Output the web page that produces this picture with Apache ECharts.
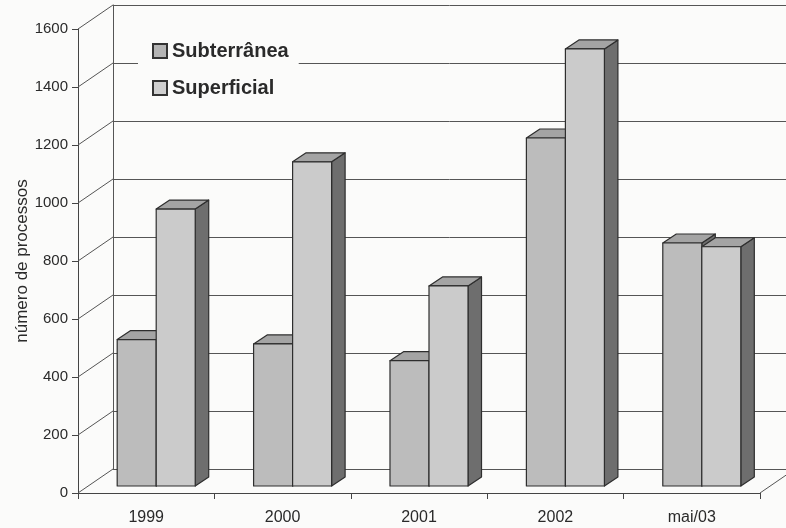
<!DOCTYPE html>
<html>
<head>
<meta charset="utf-8">
<script src="https://cdn.jsdelivr.net/npm/echarts@6/dist/echarts.min.js"></script>
<style>
  html, body { margin: 0; padding: 0; background: #fbfbfa; }
  #main { width: 786px; height: 528px; }
</style>
</head>
<body>
<div id="main"></div>
<script>
// dados
var categorias = ['1999', '2000', '2001', '2002', 'mai/03'];
var subterranea = [505, 490, 432, 1200, 838];
var superficial = [955, 1118, 690, 1507, 825];
var yTicks = [0, 200, 400, 600, 800, 1000, 1200, 1400, 1600];

// profundidade do "3D" (parede do fundo) e das barras
var DEPTH = [35, -24];
var BAR_OFF = [10, -7];
var BAR_D = [13.5, -9];

var myChart = echarts.init(document.getElementById('main'));

function barRenderer(lado, faceColor) {
    return function (params, api) {
        var idx = api.value(0);
        var v = api.value(1);
        var top = api.coord([idx, v]);
        var base = api.coord([idx, 0]);
        var bw = api.size([1, 0])[0] * 0.286;
        var cx = top[0] + BAR_OFF[0];
        var x0 = lado === 0 ? cx - bw : cx;
        var x1 = x0 + bw;
        var yT = top[1] + BAR_OFF[1];
        var yB = base[1] + BAR_OFF[1];
        var dx = BAR_D[0], dy = BAR_D[1];
        var stroke = { stroke: '#2e2e2e', lineWidth: 1.2, lineJoin: 'round' };
        return {
            type: 'group',
            children: [
                {
                    type: 'polygon',
                    shape: { points: [[x1, yT], [x1 + dx, yT + dy], [x1 + dx, yB + dy], [x1, yB]] },
                    style: Object.assign({ fill: '#6e6e6e' }, stroke)
                },
                {
                    type: 'polygon',
                    shape: { points: [[x0, yT], [x0 + dx, yT + dy], [x1 + dx, yT + dy], [x1, yT]] },
                    style: Object.assign({ fill: '#a4a4a4' }, stroke)
                },
                {
                    type: 'polygon',
                    shape: { points: [[x0, yT], [x1, yT], [x1, yB], [x0, yB]] },
                    style: Object.assign({ fill: faceColor }, stroke)
                }
            ]
        };
    };
}

// linhas diagonais da parede lateral e do chão
function wallRenderer(params, api) {
    var v = api.value(1);
    var p = api.coord([0, v]);
    var left = params.coordSys.x;
    var right = params.coordSys.x + params.coordSys.width;
    var kids = [{
        type: 'line',
        shape: { x1: left, y1: p[1], x2: left + DEPTH[0], y2: p[1] + DEPTH[1] },
        style: { stroke: '#555', lineWidth: 1 }
    }];
    if (v === 0) {
        kids.push({
            type: 'line',
            shape: { x1: right, y1: p[1], x2: right + DEPTH[0], y2: p[1] + DEPTH[1] },
            style: { stroke: '#555', lineWidth: 1 }
        });
    }
    return { type: 'group', children: kids };
}

var fonte = '"Liberation Sans", Arial, Helvetica, sans-serif';

var option = {
    backgroundColor: '#fbfbfa',
    animation: false,
    textStyle: { fontFamily: fonte, color: '#2a2a2a' },
    legend: {
        orient: 'vertical',
        left: 138,
        top: 35,
        padding: [6, 10, 6, 14],
        itemGap: 17,
        itemWidth: 14,
        itemHeight: 14,
        backgroundColor: '#fbfbfa',
        textStyle: { fontSize: 20, fontWeight: 'bold', color: '#2a2a2a', fontFamily: fonte },
        data: [
            { name: 'Subterrânea', icon: 'rect' },
            { name: 'Superficial', icon: 'rect' }
        ]
    },
    grid: [
        { left: 78, top: 29, width: 682, height: 464 },
        { left: 113, top: 5, width: 682, height: 464 }
    ],
    xAxis: [
        {
            type: 'category',
            gridIndex: 0,
            data: categorias,
            axisLine: { lineStyle: { color: '#444', width: 1 } },
            axisTick: { show: true, length: 6, lineStyle: { color: '#444' } },
            axisLabel: { fontSize: 16, color: '#2a2a2a', margin: 17 }
        },
        {
            type: 'category',
            gridIndex: 1,
            data: categorias,
            show: false
        }
    ],
    yAxis: [
        {
            type: 'value',
            gridIndex: 0,
            min: 0,
            max: 1600,
            interval: 200,
            name: 'número de processos',
            nameLocation: 'middle',
            nameGap: 47,
            nameMoveOverlap: false,
            nameTextStyle: { fontSize: 17, color: '#2a2a2a' },
            axisLine: { show: true, lineStyle: { color: '#444', width: 1 } },
            axisTick: { show: true, length: 6, lineStyle: { color: '#444' } },
            axisLabel: {
                fontSize: 15,
                color: '#2a2a2a',
                margin: 10,
                formatter: function (v) { return String(v); }
            },
            splitLine: { show: false }
        },
        {
            type: 'value',
            gridIndex: 1,
            min: 0,
            max: 1600,
            interval: 200,
            axisLine: { show: true, lineStyle: { color: '#555', width: 1 } },
            axisTick: { show: false },
            axisLabel: { show: false },
            splitLine: { show: true, lineStyle: { color: '#555', width: 1 } }
        }
    ],
    series: [
        {
            name: 'parede',
            type: 'custom',
            xAxisIndex: 0,
            yAxisIndex: 0,
            clip: false,
            silent: true,
            renderItem: wallRenderer,
            data: yTicks.map(function (v) { return [0, v]; }),
            z: 1
        },
        {
            name: 'Subterrânea',
            type: 'custom',
            xAxisIndex: 0,
            yAxisIndex: 0,
            renderItem: barRenderer(0, '#bcbcbc'),
            itemStyle: { color: '#b4b4b4', borderColor: '#333', borderWidth: 1 },
            data: subterranea.map(function (v, i) { return [i, v]; }),
            z: 3
        },
        {
            name: 'Superficial',
            type: 'custom',
            xAxisIndex: 0,
            yAxisIndex: 0,
            renderItem: barRenderer(1, '#cbcbcb'),
            itemStyle: { color: '#cfcfcf', borderColor: '#333', borderWidth: 1 },
            data: superficial.map(function (v, i) { return [i, v]; }),
            z: 4
        }
    ]
};

myChart.setOption(option);
</script>
</body>
</html>
